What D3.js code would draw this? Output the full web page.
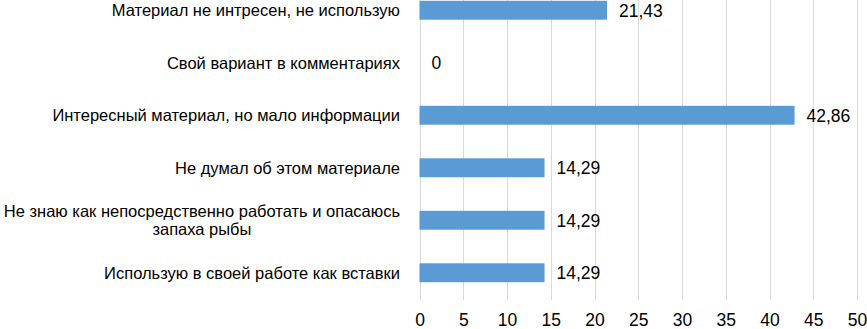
<!DOCTYPE html>
<html><head><meta charset="utf-8">
<script src="https://cdn.jsdelivr.net/npm/d3@7"></script>
<style>body{margin:0;background:#fff}svg{display:block}text{font-family:"Liberation Sans",Arial,sans-serif;fill:#000}</style>
</head><body><svg id="c" width="867" height="329"></svg>
<script>
const categories = [
  "Материал не интресен, не использую",
  "Свой вариант в комментариях",
  "Интересный материал, но мало информации",
  "Не думал об этом материале",
  "Не знаю как непосредственно работать и опасаюсь|запаха рыбы",
  "Использую в своей работе как вставки"
];
const values = [21.43, 0, 42.86, 14.29, 14.29, 14.29];
const valueLabels = ["21,43", "0", "42,86", "14,29", "14,29", "14,29"];
const ticks = [0, 5, 10, 15, 20, 25, 30, 35, 40, 45, 50];

const svg = d3.select("#c");
const x = d3.scaleLinear().domain([0, 50]).range([419.5, 857]);
const y = d3.scaleBand().domain(categories).range([-16, 299]).paddingInner(0.64).paddingOuter(0.32);

// gridlines
svg.append("g").selectAll("line").data(ticks).join("line")
  .attr("x1", d => Math.round(x(d)) + 0.5).attr("x2", d => Math.round(x(d)) + 0.5)
  .attr("y1", 0).attr("y2", 300)
  .attr("stroke", "#d9d9d9").attr("stroke-width", 1);

// x axis labels
const xAxis = d3.axisBottom(x).tickValues(ticks).tickSize(0).tickPadding(0).tickFormat(d3.format("d"));
const gx = svg.append("g").attr("transform", "translate(0,314)").call(xAxis);
gx.select(".domain").remove();
gx.selectAll("text").attr("font-size", 17.5).attr("font-family", "Liberation Sans, Arial, sans-serif").attr("fill", "#000").attr("dy", "0.71em");

// bars
svg.append("g").selectAll("rect").data(values).join("rect")
  .attr("x", x(0)).attr("y", (d, i) => y(categories[i]))
  .attr("width", d => x(d) - x(0)).attr("height", y.bandwidth())
  .attr("fill", "#5b9bd5");

// value labels
svg.append("g").selectAll("text").data(values).join("text")
  .attr("x", d => x(d) + 12).attr("y", (d, i) => y(categories[i]) + y.bandwidth() / 2)
  .attr("dy", "0.36em").attr("font-size", 17.5)
  .text((d, i) => valueLabels[i]);

// category labels
const lab = svg.append("g");
categories.forEach((c, i) => {
  const lines = c.split("|");
  const cy = y(c) + y.bandwidth() / 2;
  if (lines.length === 1) {
    lab.append("text").attr("x", 400).attr("y", cy).attr("dy", "0.36em")
      .attr("text-anchor", "end").attr("font-size", 16.5).text(lines[0]);
  } else {
    const t = lab.append("text").attr("font-size", 16.5).attr("text-anchor", "middle");
    const lh = 18.5;
    lines.forEach((l, k) => t.append("tspan").text(l));
    const w = d3.max(t.selectAll("tspan").nodes(), n => n.getComputedTextLength());
    const cx = 400 - w / 2;
    t.selectAll("tspan").attr("x", cx)
      .attr("y", (d, k) => cy + (k - (lines.length - 1) / 2) * lh)
      .attr("dy", "0.36em");
  }
});
</script></body></html>
